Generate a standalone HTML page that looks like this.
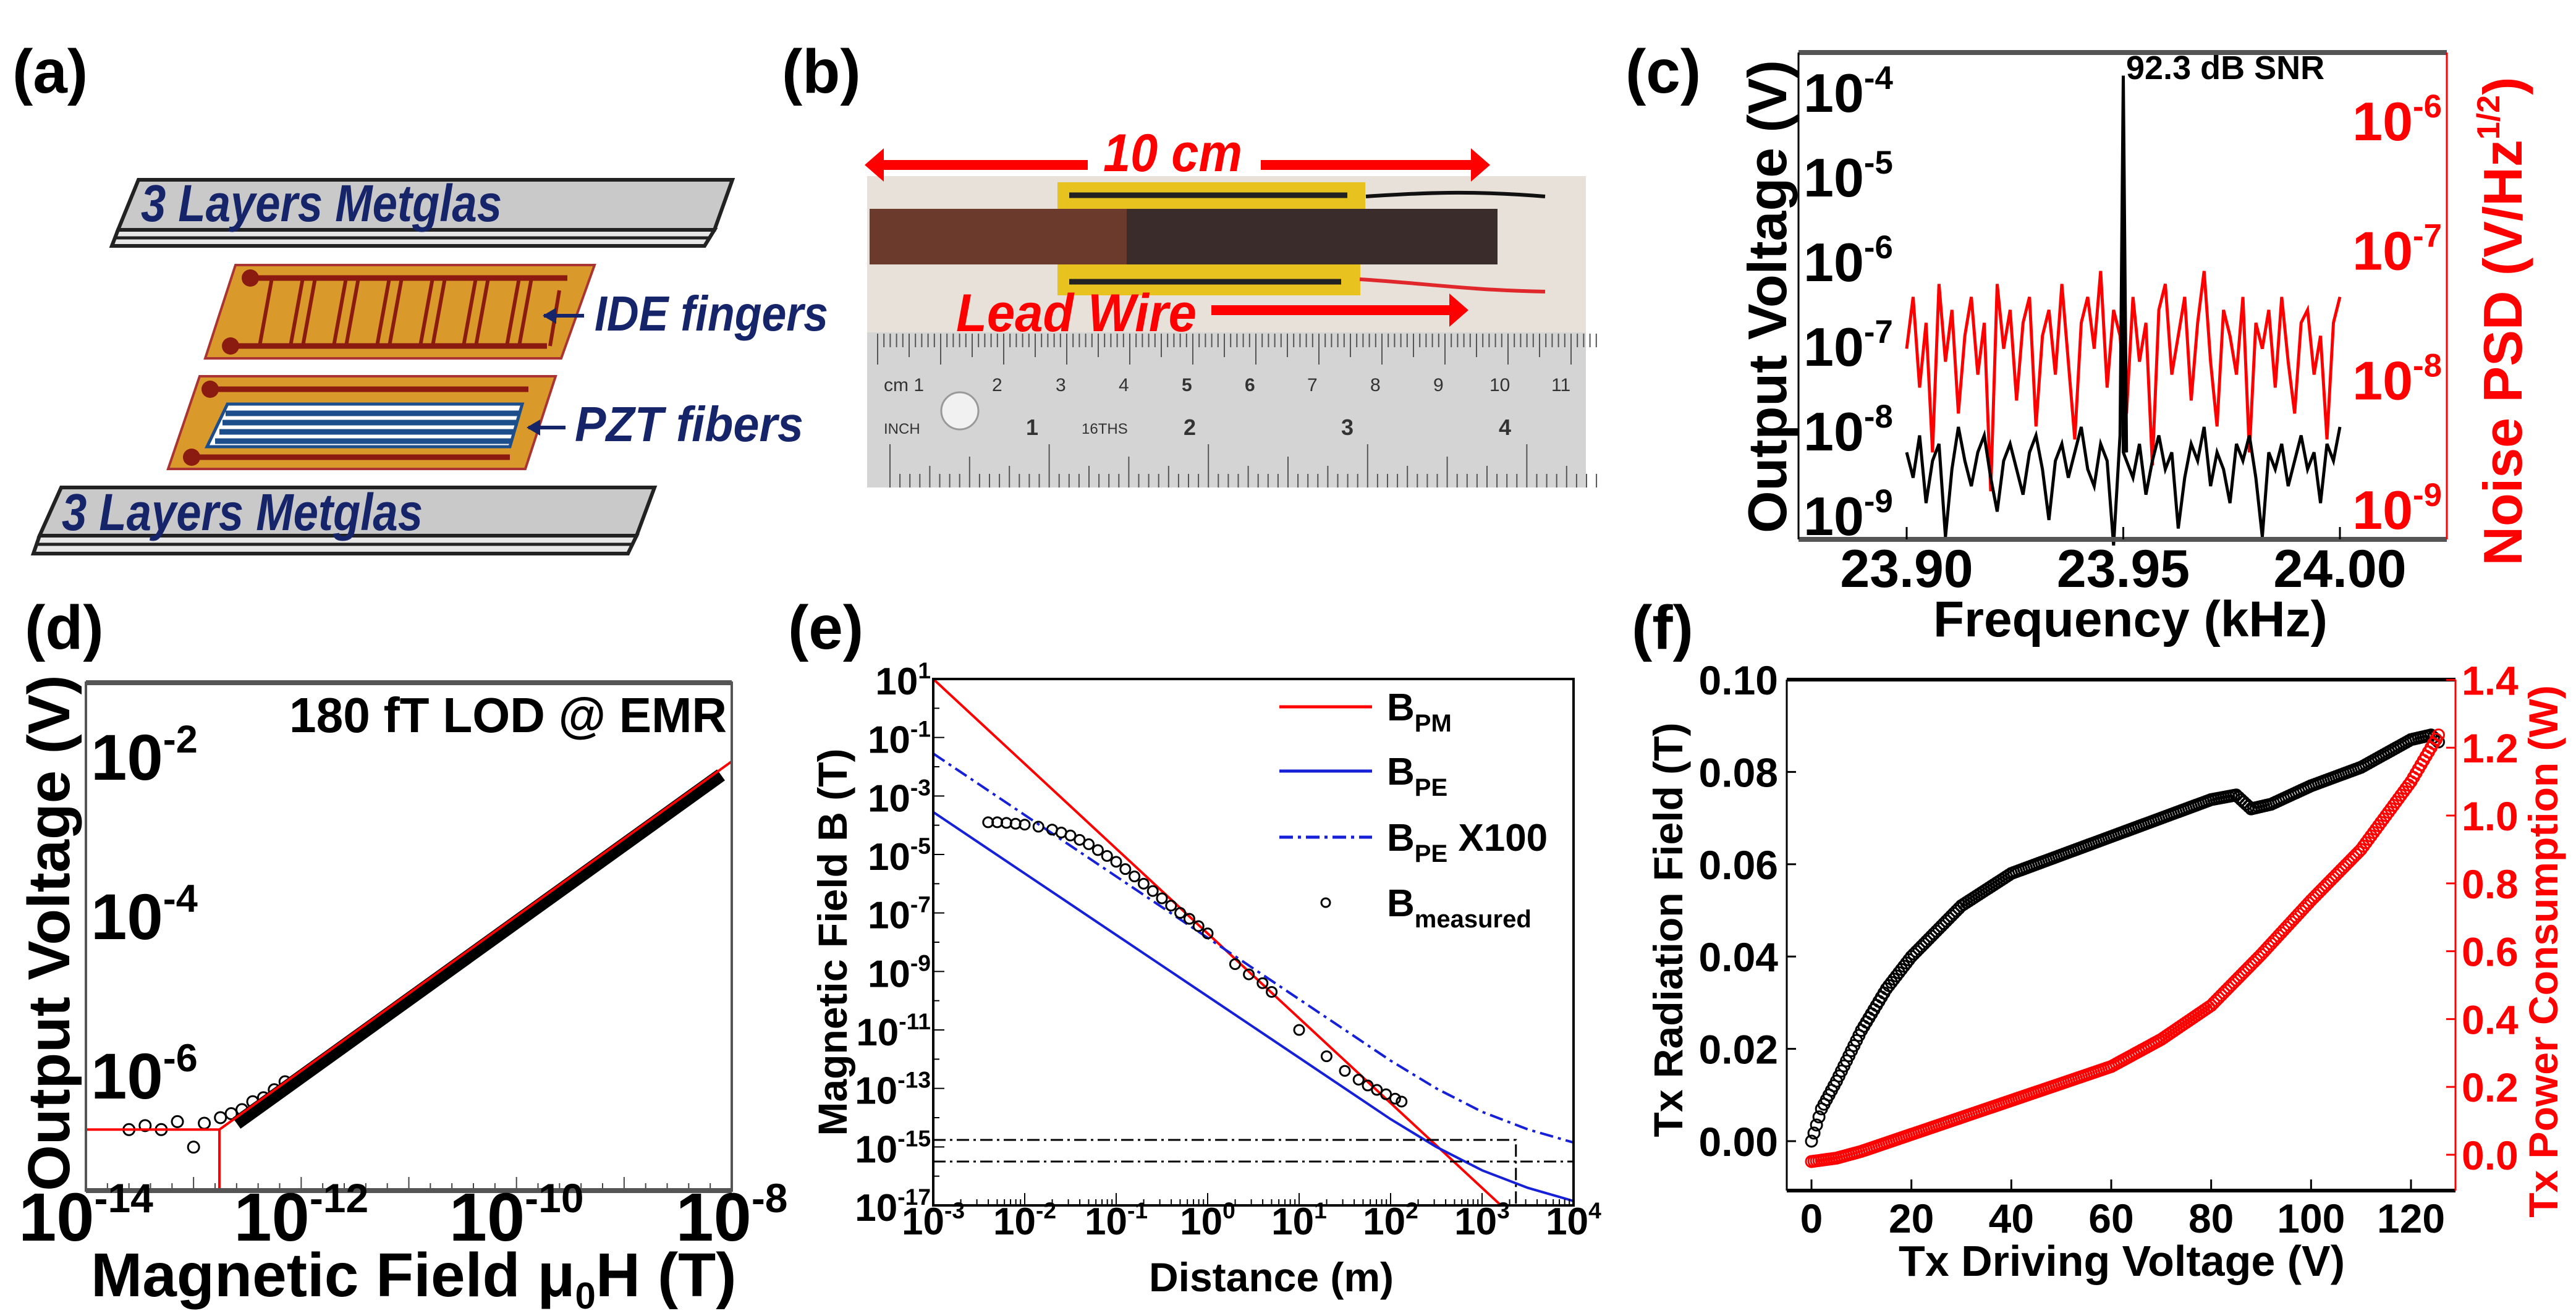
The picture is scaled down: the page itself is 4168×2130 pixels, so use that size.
<!DOCTYPE html>
<html><head><meta charset="utf-8"><style>
html,body{margin:0;padding:0;background:#fff;}
svg{display:block;}
text{font-family:"Liberation Sans",Arial,sans-serif;}
.n{font-family:"Liberation Sans Narrow","Liberation Sans",sans-serif;font-weight:bold;}
.b{font-weight:bold;}
</style></head><body>
<svg id="fig" width="4168" height="2130" viewBox="0 0 4168 2130" xmlns="http://www.w3.org/2000/svg">
<g font-size="100" font-weight="bold" fill="#000">
<text x="20" y="150">(a)</text>
<text x="1265" y="150">(b)</text>
<text x="2630" y="150">(c)</text>
<text x="40" y="1050">(d)</text>
<text x="1275" y="1050">(e)</text>
<text x="2640" y="1050">(f)</text>
</g>
<!-- panel a -->
<g>
<polygon points="224,291 1185,291 1156,372 191,372" fill="#c9c9c9" stroke="#222" stroke-width="6"/>
<polygon points="191,372 1156,372 1140,398 181,398" fill="#e6e6e6" stroke="#222" stroke-width="6"/>
<line x1="187" y1="385" x2="1148" y2="385" stroke="#222" stroke-width="5"/>
<text x="228" y="358" font-size="84" font-style="italic" fill="#16246a" class="n" textLength="584" lengthAdjust="spacingAndGlyphs">3 Layers Metglas</text>
<polygon points="381,429 962,429 908,580 332,580" fill="#d99a2b" stroke="#a33" stroke-width="4"/>
<g stroke="#8b1a10" stroke-width="9" fill="none">
<line x1="405" y1="450" x2="918" y2="450"/><line x1="373" y1="560" x2="885" y2="560"/>
<path d="M440 450 L420 560 M470 560 L490 450 M510 450 L490 560 M540 560 L560 450 M580 450 L560 560 M610 560 L630 450 M650 450 L630 560 M680 560 L700 450 M720 450 L700 560 M750 560 L770 450 M790 450 L770 560 M820 560 L840 450 M860 450 L840 560 M890 560 L905 470" stroke-width="6"/>
</g>
<circle cx="405" cy="450" r="14" fill="#8b1a10"/><circle cx="373" cy="560" r="14" fill="#8b1a10"/>
<line x1="880" y1="511" x2="945" y2="511" stroke="#16246a" stroke-width="6"/><polygon points="878,511 900,498 900,524" fill="#16246a"/>
<text x="962" y="535" font-size="80" font-style="italic" fill="#16246a" class="n" textLength="378" lengthAdjust="spacingAndGlyphs">IDE fingers</text>
<polygon points="323,609 899,609 850,759 272,759" fill="#d99a2b" stroke="#a33" stroke-width="4"/>
<g stroke="#8b1a10" stroke-width="9"><line x1="340" y1="630" x2="855" y2="630"/><line x1="310" y1="740" x2="825" y2="740"/></g>
<circle cx="340" cy="630" r="14" fill="#8b1a10"/><circle cx="310" cy="740" r="14" fill="#8b1a10"/>
<polygon points="368,654 845,654 825,723 335,723" fill="#fff" stroke="#1d4e8c" stroke-width="5"/>
<g stroke="#1d4e8c" stroke-width="9"><line x1="365" y1="669" x2="842" y2="669"/><line x1="360" y1="684" x2="838" y2="684"/><line x1="355" y1="699" x2="833" y2="699"/><line x1="348" y1="714" x2="828" y2="714"/></g>
<line x1="855" y1="692" x2="915" y2="692" stroke="#16246a" stroke-width="6"/><polygon points="852,692 874,679 874,705" fill="#16246a"/>
<text x="930" y="714" font-size="80" font-style="italic" fill="#16246a" class="n" textLength="370" lengthAdjust="spacingAndGlyphs">PZT  fibers</text>
<polygon points="99,789 1059,789 1030,867 64,867" fill="#c9c9c9" stroke="#222" stroke-width="6"/>
<polygon points="64,867 1030,867 1016,896 54,896" fill="#e6e6e6" stroke="#222" stroke-width="6"/>
<line x1="59" y1="881" x2="1023" y2="881" stroke="#222" stroke-width="5"/>
<text x="100" y="858" font-size="84" font-style="italic" fill="#16246a" class="n" textLength="584" lengthAdjust="spacingAndGlyphs">3 Layers Metglas</text>
</g>
<!-- panel b -->
<g>
<rect x="1403" y="285" width="1163" height="504" fill="#e7e1d9"/>
<rect x="1711" y="295" width="498" height="45" fill="#e8c21e"/>
<rect x="1711" y="428" width="490" height="50" fill="#e8c21e"/>
<line x1="1730" y1="316" x2="2180" y2="316" stroke="#222" stroke-width="9"/>
<line x1="1730" y1="456" x2="2170" y2="456" stroke="#222" stroke-width="9"/>
<path d="M2210 318 C2300 312 2380 308 2500 318" stroke="#111" stroke-width="6" fill="none"/>
<path d="M2200 452 C2300 458 2380 470 2500 472" stroke="#e0282c" stroke-width="6" fill="none"/>
<rect x="1407" y="338" width="416" height="90" fill="#6b3a2c"/>
<rect x="1823" y="338" width="600" height="90" fill="#3a2c2a"/>
<rect x="1403" y="538" width="1163" height="251" fill="#d4d4d4"/>
<g id="rulerTicks" stroke="#555" stroke-width="2"></g>
<g font-size="30" fill="#333"><text x="1430" y="633">cm 1</text><text x="1605" y="633">2</text><text x="1708" y="633">3</text><text x="1810" y="633">4</text><text x="1912" y="633" font-weight="bold">5</text><text x="2014" y="633" font-weight="bold">6</text><text x="2115" y="633">7</text><text x="2217" y="633">8</text><text x="2319" y="633">9</text><text x="2410" y="633">10</text><text x="2510" y="633">11</text>
<text x="1430" y="702" font-size="24">INCH</text><text x="1660" y="704" font-size="36" font-weight="bold">1</text><text x="1750" y="702" font-size="24">16THS</text><text x="1915" y="704" font-size="36" font-weight="bold">2</text><text x="2170" y="704" font-size="36" font-weight="bold">3</text><text x="2425" y="704" font-size="36" font-weight="bold">4</text></g>
<circle cx="1553" cy="665" r="30" fill="#f1f1f1" stroke="#999" stroke-width="3"/>
<line x1="1415" y1="267" x2="1760" y2="267" stroke="#f00" stroke-width="16"/>
<line x1="2040" y1="267" x2="2395" y2="267" stroke="#f00" stroke-width="16"/>
<polygon points="1399,267 1430,240 1430,294" fill="#f00"/><polygon points="2411,267 2380,240 2380,294" fill="#f00"/>
<text x="1785" y="277" font-size="86" font-style="italic" fill="#f00" class="n" textLength="225" lengthAdjust="spacingAndGlyphs">10 cm</text>
<text x="1547" y="536" font-size="86" font-style="italic" fill="#f00" class="n" textLength="389" lengthAdjust="spacingAndGlyphs">Lead Wire</text>
<line x1="1960" y1="502" x2="2350" y2="502" stroke="#f00" stroke-width="16"/><polygon points="2376,502 2345,475 2345,529" fill="#f00"/>
</g>
<g id="charts"></g>
</svg>
<script>
// ---------- data ----------
// panel c
const cFreqStart = 23.90, cFreqEnd = 24.00;
const cPeakFreq = 23.95, cPeakLog = -3.85;
const cBlackNoise = [-8.3,-8.6,-8.1,-8.9,-8.4,-8.2,-9.3,-8.5,-8.0,-8.4,-8.7,-8.3,-8.1,-8.6,-9.0,-8.4,-8.2,-8.5,-8.8,-8.3,-8.1,-8.5,-9.1,-8.4,-8.2,-8.6,-8.3,-8.0,-8.5,-8.7,-8.2,-8.4,-9.4,-8.1,-8.3,-8.6,-8.2,-8.8,-8.4,-8.1,-8.5,-8.3,-9.2,-8.6,-8.2,-8.4,-8.0,-8.7,-8.3,-8.5,-8.9,-8.2,-8.4,-8.1,-8.6,-9.3,-8.3,-8.5,-8.2,-8.7,-8.4,-8.1,-8.5,-8.3,-8.9,-8.2,-8.4,-8.0];
const cRedNoise = [-7.8,-7.4,-8.1,-7.6,-8.6,-7.3,-7.9,-7.5,-8.3,-7.7,-7.4,-8.0,-7.6,-8.9,-7.3,-7.8,-7.5,-8.2,-7.6,-7.4,-8.4,-7.7,-7.5,-8.0,-7.3,-7.9,-8.5,-7.6,-7.4,-7.8,-7.2,-8.1,-7.5,-7.7,-8.3,-7.4,-7.9,-7.6,-8.7,-7.5,-7.3,-8.0,-7.7,-7.4,-8.2,-7.6,-7.2,-7.9,-8.4,-7.5,-7.7,-8.0,-7.4,-8.6,-7.6,-7.8,-7.5,-8.1,-7.4,-7.9,-8.3,-7.6,-7.5,-8.0,-7.7,-8.5,-7.6,-7.4];
// panel d
const dLogField = [-13.6,-13.45,-13.3,-13.15,-13.0,-12.9,-12.75,-12.65,-12.55,-12.45,-12.35,-12.25,-12.15];
const dLogVolt  = [-6.7,-6.65,-6.7,-6.6,-6.92,-6.62,-6.55,-6.5,-6.45,-6.35,-6.3,-6.2,-6.1];
const dFitStart = [-14, -6.7], dFitKnee = [-12.76, -6.7], dFitEnd = [-8, -2.08];
const dDataStart = [-12.6, -6.62], dDataEnd = [-8.1, -2.25];
// panel e
const eLogD = [-3,-2.5,-2,-1.5,-1,-0.5,0,0.5,1,1.5,2,2.5,3,3.5,4];
const eBPM  = [1,-0.45,-1.9,-3.35,-4.8,-6.25,-7.7,-9.15,-10.6,-12.05,-13.5,-14.95,-16.4,-17.85,-19.3];
const eBPE  = [-3.55,-4.6,-5.65,-6.7,-7.75,-8.8,-9.85,-10.9,-11.95,-13.0,-14.05,-15.0,-15.8,-16.4,-16.85];
const eBPE100 = eBPE.map(v=>v+2);
const eMeasD = [-2.4,-2.3,-2.2,-2.1,-2.0,-1.85,-1.7,-1.6,-1.5,-1.4,-1.3,-1.2,-1.1,-1.0,-0.9,-0.8,-0.7,-0.6,-0.5,-0.4,-0.3,-0.2,-0.1,0.0,0.3,0.45,0.6,0.7,1.0,1.3,1.5,1.65,1.75,1.85,1.95,2.05,2.12];
const eMeasB = [-3.9,-3.9,-3.92,-3.95,-3.98,-4.05,-4.15,-4.25,-4.35,-4.5,-4.65,-4.85,-5.05,-5.25,-5.5,-5.75,-6.0,-6.25,-6.5,-6.75,-7.0,-7.2,-7.45,-7.7,-8.75,-9.1,-9.4,-9.7,-11.0,-11.9,-12.4,-12.7,-12.9,-13.05,-13.2,-13.35,-13.45];
const eThresh = [-14.76, -15.5];
const eThreshEnd = [3.37, 4];
// panel f
const fVolt  = [0,2,5,10,15,20,30,40,50,60,70,80,85,88,92,100,110,120,124,126];
const fField = [0,0.007,0.013,0.024,0.033,0.040,0.051,0.058,0.062,0.066,0.070,0.074,0.075,0.072,0.073,0.077,0.081,0.087,0.088,0.086];
const fPVolt = [0,5,10,20,30,40,50,60,70,80,90,100,110,115,120,124,126];
const fPower = [-0.02,-0.01,0.01,0.06,0.11,0.16,0.21,0.26,0.34,0.44,0.59,0.75,0.90,1.0,1.1,1.2,1.25];
// ---------- helpers ----------
const NS='http://www.w3.org/2000/svg';
const root=document.getElementById('charts');
function el(tag,attrs,parent,txt){const e=document.createElementNS(NS,tag);for(const k in attrs)e.setAttribute(k,attrs[k]);if(txt!==undefined)e.textContent=txt;(parent||root).appendChild(e);return e;}
function pw(parent,x,y,base,exp,anchor,fs,fill,cls){const t=el('text',{x:x,y:y,'font-size':fs,'text-anchor':anchor||'end',fill:fill||'#000','class':cls||'n'},parent);t.appendChild(document.createTextNode(base));el('tspan',{'font-size':fs*0.6,dy:-fs*0.42},t,exp);return t;}
(function(){const g=document.getElementById('rulerTicks');for(let i=0;i<115;i++){const x=1420+i*10.2;el('line',{x1:x,y1:540,x2:x,y2:540+(i%10==0?50:i%5==0?38:22)},g);}for(let i=0;i<72;i++){const x=1440+i*16.1;el('line',{x1:x,y1:789,x2:x,y2:789-(i%16==0?70:i%8==0?50:i%4==0?35:22)},g);}})();

// ---------- panel c ----------
(function(){
const g=el('g',{});
const L=2910,R=3959,T=85,B=873;
const xs=f=>3085+(f-23.90)*(3786-3085)/0.10;
const yL=v=>143+(-4-v)*137;
const yR=v=>187+(-6-v)*209.7;
const n=cBlackNoise.length;
let pts=[];cRedNoise.forEach((v,i)=>pts.push(xs(cFreqStart+(cFreqEnd-cFreqStart)*i/(cRedNoise.length-1))+','+yR(v)));
const red=el('polyline',{points:pts.join(' '),fill:'none',stroke:'#f00','stroke-width':5},g);

pts=[];cBlackNoise.forEach((v,i)=>{const f=cFreqStart+(cFreqEnd-cFreqStart)*i/(n-1);pts.push(xs(f)+','+yL(v));if(Math.abs(f-cPeakFreq)<0.0008){pts.push(xs(cPeakFreq)+','+yL(cPeakLog));pts.push(xs(cPeakFreq)+','+yL(v));}});
const blk=el('polyline',{points:pts.join(' '),fill:'none',stroke:'#000','stroke-width':5},g);

el('line',{x1:xs(cPeakFreq),y1:yL(cPeakLog),x2:xs(cPeakFreq),y2:yL(-8.2),stroke:'#000','stroke-width':5},g);
el('line',{x1:L,y1:T,x2:R,y2:T,stroke:'#555','stroke-width':8},g);
el('line',{x1:L,y1:B,x2:R,y2:B,stroke:'#555','stroke-width':8},g);
el('line',{x1:L,y1:T,x2:L,y2:B,stroke:'#000','stroke-width':3},g);
el('line',{x1:R,y1:T,x2:R,y2:B,stroke:'#f00','stroke-width':3},g);
[-4,-5,-6,-7,-8,-9].forEach(e=>{pw(g,L+8,yL(e)+38,'10',e,'start',88,'#000','b');});
[-6,-7,-8,-9].forEach(e=>{pw(g,R-8,yR(e)+40,'10',e,'end',88,'#f00','b');});
[23.90,23.95,24.00].forEach(f=>{el('text',{x:xs(f),y:950,'font-size':86,'text-anchor':'middle','class':'b'},g,f.toFixed(2));el('line',{x1:xs(f),y1:B,x2:xs(f),y2:B-20,stroke:'#000','stroke-width':3},g);});
const ann=el('text',{x:3440,y:128,'font-size':54,'class':'b'},g,'92.3 dB SNR');
const xt=el('text',{x:3447,y:1030,'font-size':82,'text-anchor':'middle','class':'b'},g,'Frequency (kHz)');
const yt=el('text',{x:0,y:0,'font-size':88,'text-anchor':'middle','class':'b',transform:'translate(2890,480) rotate(-90)'},g,'Output Voltage (V)');
const rt=el('text',{x:0,y:0,'font-size':88,'text-anchor':'middle','class':'b',fill:'#f00',transform:'translate(4080,520) rotate(-90)'},g);rt.appendChild(document.createTextNode('Noise PSD (V/Hz'));el('tspan',{'font-size':52,dy:-36},rt,'1/2');el('tspan',{dy:36},rt,')');

})();

// ---------- panel d ----------
(function(){
const g=el('g',{});
const L=139,R=1184,T=1105,B=1927;
const xs=v=>L+(v+14)*(R-L)/6;
const ys=v=>1222+(-2-v)*129;
const clip=el('clipPath',{id:'dclip'},g);el('rect',{x:L,y:T,width:R-L,height:B-T},clip);
const pg=el('g',{'clip-path':'url(#dclip)'},g);
for(let e=-14;e<=-8;e+=0.2){el('line',{x1:xs(e),y1:B,x2:xs(e),y2:B-(Math.abs(e-Math.round(e))<0.01?22:12),stroke:'#444','stroke-width':2},g);}
const band=el('polyline',{points:[dDataStart,dDataEnd].map(p=>xs(p[0])+','+ys(p[1])).join(' '),fill:'none',stroke:'#000','stroke-width':22},pg);

dLogField.forEach((x,i)=>{const c=el('circle',{cx:xs(x),cy:ys(dLogVolt[i]),r:9,fill:'none',stroke:'#000','stroke-width':3},pg);});
const fit=el('polyline',{points:[dFitStart,dFitKnee,dFitEnd].map(p=>xs(p[0])+','+ys(p[1])).join(' '),fill:'none',stroke:'#f00','stroke-width':4},pg);

el('line',{x1:xs(dFitKnee[0]),y1:ys(dFitKnee[1]),x2:xs(dFitKnee[0]),y2:B,stroke:'#f00','stroke-width':4},pg);
el('rect',{x:L,y:T,width:R-L,height:B-T,fill:'none',stroke:'#555','stroke-width':4},g);
el('line',{x1:L,y1:T,x2:R,y2:T,stroke:'#555','stroke-width':8},g);
el('line',{x1:L,y1:B,x2:R,y2:B,stroke:'#555','stroke-width':8},g);
[-14,-12,-10,-8].forEach(e=>pw(g,xs(e),2008,'10',e,'middle',110,'#000','n'));
[-2,-4,-6].forEach(e=>pw(g,L+8,ys(e)+40,'10',e,'start',105,'#000','n'));
const an=el('text',{x:468,y:1185,'font-size':80,'class':'n',textLength:708,lengthAdjust:'spacingAndGlyphs'},g,'180 fT LOD @ EMR');
const xt=el('text',{x:147,y:2098,'font-size':100,'class':'n'},g);xt.appendChild(document.createTextNode('Magnetic Field μ'));el('tspan',{'font-size':60,dy:20},xt,'0');el('tspan',{dy:-20},xt,'H (T)');

const yt=el('text',{x:0,y:0,'font-size':96,'text-anchor':'middle','class':'b',transform:'translate(112,1510) rotate(-90)'},g,'Output Voltage (V)');
})();

// ---------- panel e ----------
(function(){
const g=el('g',{});
const L=1510,R=2546,T=1099,B=1951;
const xs=v=>L+(v+3)*(R-L)/7;
const ys=v=>T+(1-v)*(B-T)/18;
const clip=el('clipPath',{id:'eclip'},g);el('rect',{x:L,y:T,width:R-L,height:B-T},clip);
const pg=el('g',{'clip-path':'url(#eclip)'},g);
function line(arr,col,dash,name){const p=el('polyline',{points:eLogD.map((d,i)=>xs(d)+','+ys(arr[i])).join(' '),fill:'none',stroke:col,'stroke-width':4,'stroke-dasharray':dash||'none'},pg);}
line(eBPM,'#f00',null,'b-pm-line');line(eBPE,'#1520d8',null,'b-pe-line');line(eBPE100,'#1520d8','22,8,5,8','b-pe-x100-line');
eThresh.forEach((t,i)=>{el('polyline',{points:`${L},${ys(t)} ${xs(eThreshEnd[i])},${ys(t)} ${xs(eThreshEnd[i])},${B}`,fill:'none',stroke:'#000','stroke-width':3,'stroke-dasharray':'20,7,4,7'},pg);});
eMeasD.forEach((d,i)=>{const c=el('circle',{cx:xs(d),cy:ys(eMeasB[i]),r:8,fill:'none',stroke:'#000','stroke-width':3},g);});
el('rect',{x:L,y:T,width:R-L,height:B-T,fill:'none',stroke:'#000','stroke-width':4},g);
for(let e=-3;e<=4;e++){pw(g,xs(e),1998,'10',e,'middle',62,'#000','n');for(let k=1;k<10;k++){const x=xs(e+Math.log10(k));if(x<=R)el('line',{x1:x,y1:B,x2:x,y2:B-(k==1?20:10),stroke:'#000','stroke-width':2},g);}}
for(let e=1;e>=-17;e--){el('line',{x1:L,y1:ys(e),x2:L+(e%2?18:10),y2:ys(e),stroke:'#000','stroke-width':2},g);if(Math.abs(e)%2==1)pw(g,L-4,ys(e)+25,'10',e,'end',62,'#000','n');}
const lx=2070,lt=2244;
[['#f00',null,1144,'B','PM'],['#1520d8',null,1248,'B','PE'],['#1520d8','22,8,5,8',1355,'B','PE']].forEach((r,i)=>{const l=el('line',{x1:lx,y1:r[2],x2:lx+150,y2:r[2],stroke:r[0],'stroke-width':5,'stroke-dasharray':r[1]||'none'},g);
const t=el('text',{x:lt,y:r[2]+22,'font-size':62,'class':'n'},g,r[3]);el('tspan',{'font-size':40,dy:18},t,r[4]);if(i==2)el('tspan',{dy:-18,'font-size':62},t,' X100');});
el('circle',{cx:2145,cy:1461,r:7,fill:'none',stroke:'#000','stroke-width':3},g);
const lm=el('text',{x:lt,y:1483,'font-size':62,'class':'n'},g,'B');el('tspan',{'font-size':40,dy:18},lm,'measured');
const xt=el('text',{x:2057,y:2090,'font-size':66,'text-anchor':'middle','class':'n'},g,'Distance (m)');
const yt=el('text',{x:0,y:0,'font-size':66,'text-anchor':'middle','class':'b',transform:'translate(1370,1525) rotate(-90)'},g,'Magnetic Field B (T)');
})();

// ---------- panel f ----------
(function(){
const g=el('g',{});
const L=2891,R=3973,T=1100,B=1927;
const xs=v=>2931+v*(3901-2931)/120;
const yl=v=>1847-v*7470;
const yr=v=>1869-v*549;
function dense(xa,ya,yf,col,name){const gg=el('g',{},g);
for(let i=0;i<xa.length-1;i++){const n=Math.max(3,Math.round((xa[i+1]-xa[i])*2));for(let k=0;k<n;k++){const t=k/n;const x=xa[i]+(xa[i+1]-xa[i])*t,y=ya[i]+(ya[i+1]-ya[i])*t;el('circle',{cx:xs(x),cy:yf(y),r:9,fill:'none',stroke:col,'stroke-width':3},gg);}}}
dense(fVolt,fField,yl,'#000','radiation-field-series');
dense(fPVolt,fPower,yr,'#f00','power-consumption-series');
el('line',{x1:L,y1:T,x2:R,y2:T,stroke:'#000','stroke-width':6},g);
el('line',{x1:L,y1:B,x2:R,y2:B,stroke:'#000','stroke-width':6},g);
el('line',{x1:L,y1:T,x2:L,y2:B,stroke:'#000','stroke-width':3},g);
el('line',{x1:R,y1:T,x2:R,y2:B,stroke:'#f00','stroke-width':3},g);
[0,0.02,0.04,0.06,0.08,0.10].forEach(v=>{el('text',{x:L-14,y:yl(v)+24,'font-size':66,'text-anchor':'end','class':'n'},g,v.toFixed(2));el('line',{x1:L,y1:yl(v),x2:L+15,y2:yl(v),stroke:'#000','stroke-width':3},g);});
[0,0.2,0.4,0.6,0.8,1.0,1.2,1.4].forEach(v=>{el('text',{x:R+10,y:yr(v)+24,'font-size':66,fill:'#f00','class':'n'},g,v.toFixed(1));el('line',{x1:R,y1:yr(v),x2:R-15,y2:yr(v),stroke:'#f00','stroke-width':3},g);});
[0,20,40,60,80,100,120].forEach(v=>{el('text',{x:xs(v),y:1995,'font-size':66,'text-anchor':'middle','class':'n'},g,v);el('line',{x1:xs(v),y1:B,x2:xs(v),y2:B-18,stroke:'#000','stroke-width':3},g);});
const xt=el('text',{x:3433,y:2065,'font-size':70,'text-anchor':'middle','class':'n'},g,'Tx Driving Voltage (V)');
const yt=el('text',{x:0,y:0,'font-size':66,'text-anchor':'middle','class':'b',transform:'translate(2722,1505) rotate(-90)'},g,'Tx Radiation Field (T)');
const rt=el('text',{x:0,y:0,'font-size':66,'text-anchor':'middle','class':'b',fill:'#f00',transform:'translate(4138,1540) rotate(-90)'},g,'Tx Power Consumption (W)');
})();
</script>
</body></html>
